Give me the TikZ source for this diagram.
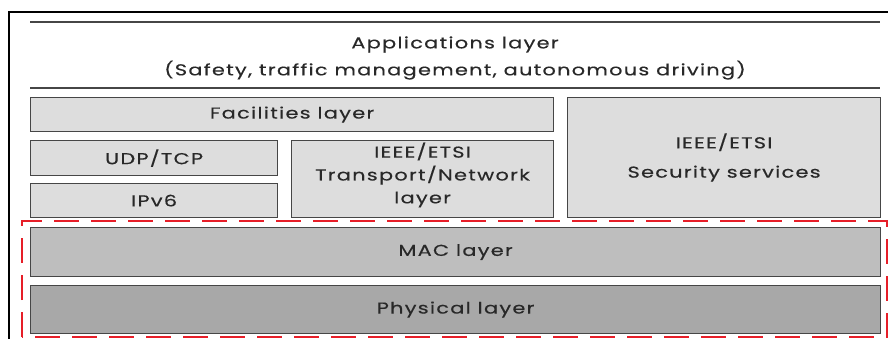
\documentclass[tikz,border=0pt]{standalone}
\usepackage{fontspec}
\setmainfont[LetterSpace=8, FakeStretch=1.32, FakeBold=0.35]{Poppins}
\usepackage{xcolor}
\usetikzlibrary{positioning}
\definecolor{framegray}{RGB}{70, 70, 70}
\definecolor{lightgray}{RGB}{221, 221, 221}
\definecolor{macgray}{RGB}{190, 190, 190}
\definecolor{phygray}{RGB}{168, 168, 168}
\definecolor{textgray}{RGB}{40, 40, 40}
\definecolor{dashred}{RGB}{230, 30, 40}

\begin{document}
\begin{tikzpicture}[
    x=0.03cm, y=-0.03cm,
    layer/.style={rectangle, draw=framegray, line width=1pt, fill=lightgray, anchor=north west, inner sep=0pt, text=textgray, font=\fontsize{13.5}{17}\selectfont, align=center},
    label/.style={text=textgray, font=\fontsize{13.5}{23}\selectfont, align=center},
    sepline/.style={draw=framegray, line width=1pt}
]
\useasboundingbox (0,0) rectangle (888,339);

% outer frame
\draw[black, line width=1.6pt] (9,339) -- (9,12) -- (888,12);

% applications layer
\coordinate (apptl) at (30,22);
\coordinate (apptr) at (880,22);
\coordinate (appbl) at (30,88);
\coordinate (appbr) at (880,88);
\draw[sepline] (apptl) -- (apptr);
\draw[sepline] (appbl) -- (appbr);
\node[label] (apps) at (455,58) {Applications layer\\(Safety, traffic management, autonomous driving)};

% upper stack
\node[layer, minimum width=15.69cm, minimum height=1.02cm] (facilities) at (30,97) {Facilities layer};
\node[layer, minimum width=7.41cm, minimum height=1.05cm] (udptcp) at (30,140) {UDP/TCP};
\node[layer, minimum width=7.41cm, minimum height=1.02cm] (ipv6) at (30,183) {IPv6};
\node[layer, minimum width=7.86cm, minimum height=2.31cm] (transport) at (291,140) {};
\node[label, font=\fontsize{13.5}{19.5}\selectfont] (transporttext) at ([yshift=0.12cm]transport.center) {IEEE/ETSI\\Transport/Network\\layer};
\node[layer, minimum width=9.39cm, minimum height=3.6cm, font=\fontsize{13.5}{25}\selectfont] (security) at (567,97) {IEEE/ETSI\\Security services};

% access layers
\node[layer, fill=macgray, minimum width=25.5cm, minimum height=1.47cm] (mac) at (30,227) {MAC layer};
\node[layer, fill=phygray, minimum width=25.5cm, minimum height=1.44cm] (phy) at (30,285) {Physical layer};

% dashed access box
\draw[dashred, line width=2.2pt, dash pattern=on 0.75cm off 0.36cm] (22,337) -- (22,221) -- (887,221) -- (887,337) -- cycle;

\end{tikzpicture}
\end{document}
